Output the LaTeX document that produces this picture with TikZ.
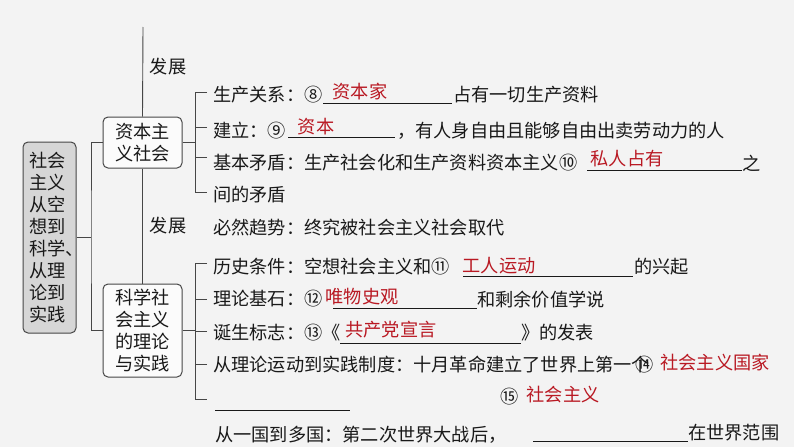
\documentclass[tikz,border=0pt]{standalone}
\usepackage{fontspec}
\setmainfont{Noto Sans CJK SC}
\usepackage{xcolor}
\definecolor{bgc}{RGB}{243,243,243}
\definecolor{linec}{RGB}{70,70,70}
\definecolor{ansc}{RGB}{185,25,35}
\definecolor{txtc}{RGB}{25,25,25}
\definecolor{rootc}{RGB}{214,214,214}
\tikzset{
  txt/.style={anchor=west, inner sep=0pt, text=txtc, font=\fontsize{18.2}{22}\selectfont},
  ans/.style={inner sep=0pt, text=ansc, font=\fontsize{18.2}{22}\selectfont},
  box/.style={draw=linec, line width=1pt, rounded corners=5pt, fill=white!97!gray, align=center,
    inner sep=0pt, text=txtc, font=\fontsize{18.2}{22}\selectfont, minimum width=79pt},
  link/.style={draw=linec, line width=0.9pt},
  blank/.style={draw=txtc, line width=0.8pt},
}
\begin{document}
\begin{tikzpicture}[x=1pt,y=-1pt]
    \fill[bgc] (0,0) rectangle (794,447);
    \useasboundingbox (0,0) rectangle (794,447);
    % boxes
    \node[box, fill=rootc, minimum width=53pt, minimum height=191pt, text width=40pt, inner xsep=6.5pt, align=left] (root) at (49.5,237.5) {社会\\主义\\从空\\想到\\科学、\\从理\\论到\\实践};
    \node[box, minimum height=51pt] (cap) at (142.5,142.5) {资本主\\义社会};
    \node[box, minimum height=93pt] (sci) at (142.5,330.5) {科学社\\会主义\\的理论\\与实践};
    \coordinate (top) at (143,27);
    \draw[link] (top) -- (cap.north);
    \draw[link] (cap.south) -- (sci.north);
    \node[txt, anchor=center] (grow1) at (168,67) {发展};
    \node[txt, anchor=center] (grow2) at (168,226) {发展};
    \coordinate (fork) at (91,237.5);
    \draw[link] (root.east) -- (fork);
    \draw[link] (cap.west) -| (fork) |- (sci.west);
    % brackets
    \coordinate (b1) at ([xshift=13pt]cap.east);
    \coordinate (k1) at (207,92);
    \coordinate (k2) at (207,127);
    \coordinate (k3) at (207,157);
    \coordinate (k4) at (207,192);
    \draw[link] (cap.east) -- (b1);
    \draw[link] (k1) -- (k1 -| b1) -- (k4 -| b1) -- (k4);
    \draw[link] (k2) -- (k2 -| b1);
    \draw[link] (k3) -- (k3 -| b1);
    \coordinate (b2) at ([xshift=13pt]sci.east);
    \coordinate (k5) at (207,263);
    \coordinate (k6) at (207,299);
    \coordinate (k7) at (207,331);
    \coordinate (k8) at (207,364);
    \coordinate (k9) at (207,399);
    \draw[link] (sci.east) -- (b2);
    \draw[link] (k5) -- (k5 -| b2) -- (k9 -| b2) -- (k9);
    \draw[link] (k6) -- (k6 -| b2);
    \draw[link] (k7) -- (k7 -| b2);
    \draw[link] (k8) -- (k8 -| b2);
    % capitalism
    \node[txt] (l1) at (213,95) {生产关系：⑧};
    \draw[blank] (323,103) -- (452,103);
    \node[ans] (a8) at (360,92) {资本家};
    \node[txt] (r1) at (453,95) {占有一切生产资料};
    \node[txt] (l2) at (213,131) {建立：⑨};
    \draw[blank] (288,137) -- (395,137);
    \node[ans] (a9) at (316,127) {资本};
    \node[txt] (r2) at (397,131) {，有人身自由且能够自由出卖劳动力的人};
    \node[txt] (l3) at (213,163) {基本矛盾：生产社会化和生产资料资本主义⑩};
    \draw[blank] (587,170) -- (742,170);
    \node[ans] (a10) at (627,159) {私人占有};
    \node[txt] (r3) at (742,163) {之};
    \node[txt] (l4) at (213,195) {间的矛盾};
    \node[txt] (l5) at (213,228) {必然趋势：终究被社会主义社会取代};
    % scientific socialism
    \node[txt] (l6) at (213,267) {历史条件：空想社会主义和⑪};
    \draw[blank] (463,276) -- (633,276);
    \node[ans] (a11) at (499,266) {工人运动};
    \node[txt] (r6) at (634,267) {的兴起};
    \node[txt] (l7) at (213,299) {理论基石：⑫};
    \draw[blank] (333,308) -- (477,308);
    \node[ans] (a12) at (362,297) {唯物史观};
    \node[txt] (r7) at (477,300) {和剩余价值学说};
    \node[txt] (l8) at (213,333) {诞生标志：⑬《};
    \draw[blank] (340,343) -- (521,343);
    \node[ans] (a13) at (391,330) {共产党宣言};
    \node[txt] (r8) at (521,333) {》的发表};
    \node[txt] (l9) at (213,365) {从理论运动到实践制度：十月革命建立了世界上第一个};
    \node[txt, anchor=center] (n14) at (645,365) {⑭};
    \node[ans] (a14) at (715,363) {社会主义国家};
    \node[txt, anchor=center] (n15) at (510,397) {⑮};
    \node[ans] (a15) at (563,395) {社会主义};
    \draw[blank] (215,410) -- (350,410);
    \node[txt] (l10) at (215,435) {从一国到多国：第二次世界大战后，};
    \draw[blank] (533,441) -- (688,441);
    \node[txt] (r10) at (688,433) {在世界范围};
\end{tikzpicture}
\end{document}
